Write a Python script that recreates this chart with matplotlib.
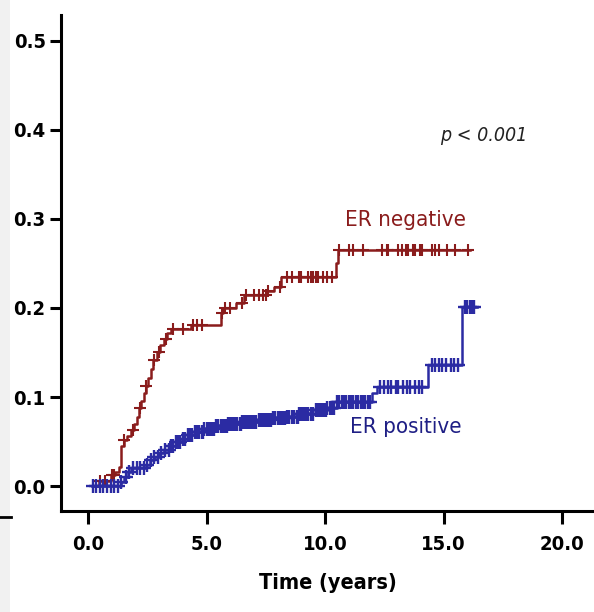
import numpy as np
import matplotlib
matplotlib.use("Agg")
import matplotlib.pyplot as plt
from matplotlib.lines import Line2D
from matplotlib.patches import Rectangle

plt.rcParams["font.family"] = ["DejaVu Sans"]
plt.rcParams["font.stretch"] = "condensed"

# cumulative incidence, ER negative (step times in years, value after step)
neg_times = [0.30, 0.45, 0.95, 1.15, 1.30, 1.40, 1.50, 1.65, 1.80, 1.95, 2.05, 2.15, 2.25,
             2.35, 2.45, 2.55, 2.65, 2.75, 2.90, 3.05, 3.20, 3.35, 3.50, 4.35, 5.60,
             5.70, 6.25, 6.60, 7.55, 7.85, 8.15, 10.45, 10.55, 16.10]
neg_values = [0.000, 0.006, 0.012, 0.016, 0.021, 0.045, 0.052, 0.056, 0.063, 0.070, 0.078,
              0.088, 0.096, 0.104, 0.112, 0.121, 0.132, 0.142, 0.150, 0.158, 0.165, 0.172,
              0.176, 0.181, 0.194, 0.200, 0.206, 0.215, 0.219, 0.224, 0.235, 0.250,
              0.265, 0.265]
neg_censored = [0.5, 0.7, 1.0, 1.1, 1.5, 1.9, 2.2, 2.45, 2.8, 3.0, 3.3, 3.6, 4.0, 4.45,
                4.6, 4.8, 5.65, 5.8, 6.0, 6.5, 6.65, 7.0, 7.2, 7.4, 7.5, 7.6, 8.1, 8.4,
                8.6, 8.9, 9.0, 9.3, 9.4, 9.5, 9.6, 9.7, 9.9, 10.1, 10.3, 10.6, 11.0, 11.2,
                11.6, 12.4, 12.6, 12.65, 13.1, 13.25, 13.4, 13.5, 13.7, 13.8, 14.0, 14.1,
                14.5, 14.65, 14.8, 15.15, 15.5, 16.05]

# cumulative incidence, ER positive
pos_times = [0.15, 1.40, 1.50, 1.70, 1.80, 2.45, 2.60, 2.80, 3.00, 3.20, 3.45, 3.70, 3.95,
             4.20, 4.50, 4.90, 5.40, 5.90, 6.50, 7.20, 7.80, 8.40, 8.90, 9.60, 10.10,
             10.50, 12.00, 12.20, 14.35, 15.80, 16.40]
pos_values = [0.000, 0.005, 0.010, 0.016, 0.020, 0.024, 0.029, 0.033, 0.037, 0.041, 0.045,
              0.049, 0.053, 0.057, 0.061, 0.064, 0.068, 0.070, 0.072, 0.074, 0.076, 0.078,
              0.081, 0.085, 0.088, 0.094, 0.104, 0.111, 0.136, 0.201, 0.201]
pos_censored = [0.2, 0.35, 0.5, 0.65, 0.8, 0.95, 1.1, 1.25, 1.4, 1.6, 1.75, 1.9, 2.05, 2.2,
                2.35, 2.5, 2.65, 2.8, 2.95, 3.1, 3.25, 3.4, 3.5, 3.6, 3.7, 3.8, 3.9, 4.0,
                4.1, 4.2, 4.3, 4.4, 4.5, 4.6, 4.65, 4.7, 4.8, 4.85, 4.9, 5.0, 5.05, 5.1,
                5.2, 5.25, 5.3, 5.4, 5.45, 5.5, 5.6, 5.65, 5.7, 5.8, 5.85, 5.9, 6.0, 6.05,
                6.1, 6.2, 6.25, 6.3, 6.4, 6.45, 6.5, 6.6, 6.65, 6.7, 6.8, 6.85, 6.9, 7.0,
                7.05, 7.1, 7.2, 7.25, 7.3, 7.4, 7.45, 7.5, 7.6, 7.65, 7.7, 7.8, 7.85, 7.9,
                8.0, 8.05, 8.1, 8.2, 8.25, 8.3, 8.4, 8.45, 8.5, 8.6, 8.65, 8.7, 8.8, 8.85,
                8.9, 9.0, 9.05, 9.1, 9.2, 9.25, 9.3, 9.4, 9.45, 9.5, 9.6, 9.65, 9.7, 9.8,
                9.85, 9.9, 10.0, 10.05, 10.1, 10.2, 10.3, 10.4, 10.5, 10.55, 10.6, 10.7,
                10.8, 10.9, 11.0, 11.1, 11.2, 11.3, 11.4, 11.5, 11.6, 11.7, 11.8, 11.9,
                12.3, 12.5, 12.65, 12.8, 13.0, 13.1, 13.3, 13.45, 13.6, 13.8, 13.95, 14.1,
                14.5, 14.65, 14.8, 14.95, 15.1, 15.3, 15.45, 15.6, 15.9, 16.0, 16.1, 16.2,
                16.3]

x_ticks = [0.0, 5.0, 10.0, 15.0, 20.0]
y_ticks = [0.0, 0.1, 0.2, 0.3, 0.4, 0.5]

NEG_COLOR = "#8a1c1c"
POS_COLOR = "#2b2ba3"


def step_at(times, values, t):
    """Value of a right-continuous step curve at time(s) t."""
    idx = np.searchsorted(times, t, side="right") - 1
    idx = np.clip(idx, 0, len(values) - 1)
    return np.asarray(values)[idx]


fig = plt.figure(figsize=(5.94, 6.12), dpi=100)

# grey strip at the left edge
fig.add_artist(Rectangle((0, 0), 10 / 594, 1, transform=fig.transFigure,
                         facecolor="#f1f1f1", edgecolor="none", zorder=0))
fig.add_artist(Line2D([0, 11 / 594], [1 - 517 / 612] * 2, transform=fig.transFigure,
                      color="black", lw=2))

ax = fig.add_axes([61 / 594, 1 - 511 / 612, 1 - 61 / 594, 496 / 612])

styles = [(neg_times, neg_values, neg_censored, NEG_COLOR, 9, 1.5),
          (pos_times, pos_values, pos_censored, POS_COLOR, 10, 1.7)]
for times, values, cens, color, msize, mew in styles:
    ax.step(times, values, where="post", color=color, lw=1.8, zorder=3)
    ax.plot(cens, step_at(times, values, cens), linestyle="none", marker="+",
            markersize=msize, markeredgewidth=mew, color=color, zorder=4)

ax.text(10.85, 0.299, "ER negative", color=NEG_COLOR, fontsize=16, va="center", ha="left")
ax.text(11.05, 0.066, "ER positive", color="#1f1f85", fontsize=16, va="center", ha="left")
ax.text(14.85, 0.394, "p < 0.001", color="#222222", fontsize=14, style="italic",
        va="center", ha="left")

ax.set_xlim(-1.14, 21.35)
ax.set_ylim(-0.028, 0.529)
ax.set_xticks(x_ticks)
ax.set_xticklabels([f"{v:.1f}" for v in x_ticks])
ax.set_yticks(y_ticks)
ax.set_yticklabels([f"{v:.1f}" for v in y_ticks])

for side in ["top", "right"]:
    ax.spines[side].set_visible(False)
for side in ["left", "bottom"]:
    ax.spines[side].set_linewidth(2.2)
ax.tick_params(axis="both", width=2.2, labelsize=14.5)
ax.tick_params(axis="x", length=9, pad=8)
ax.tick_params(axis="y", length=8, pad=3)
for lbl in ax.get_xticklabels() + ax.get_yticklabels():
    lbl.set_fontweight("bold")

ax.set_xlabel("Time (years)", fontsize=15.5, fontweight="bold", labelpad=14)

fig.savefig("out.png", dpi=100)
